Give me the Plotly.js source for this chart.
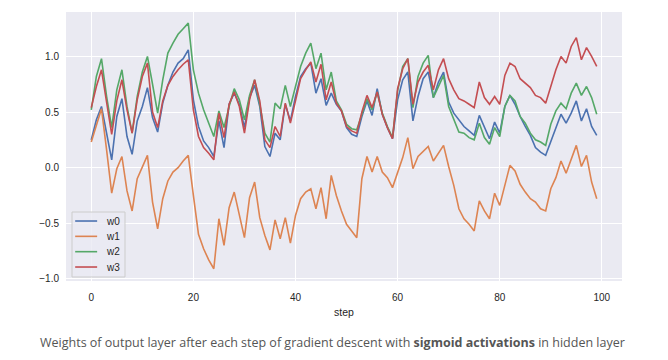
<!DOCTYPE html>
<html>
<head>
<meta charset="utf-8">
<script src="https://cdn.plot.ly/plotly-3.0.1.min.js"></script>
<style>html,body{margin:0;padding:0;background:#fff;}#chart{width:668px;height:360px;}</style>
</head>
<body>
<div id="chart"></div>
<script>
const seriesNames = ["w0", "w1", "w2", "w3"];
const w0 = [0.25,0.43,0.55,0.31,0.07,0.46,0.62,0.28,0.12,0.42,0.55,0.72,0.45,0.32,0.58,0.74,0.86,0.94,0.98,1.06,
0.61,0.37,0.24,0.18,0.10,0.42,0.18,0.57,0.67,0.57,0.36,0.63,0.74,0.55,0.19,0.10,0.31,0.25,0.57,0.42,
0.64,0.82,0.89,0.94,0.67,0.80,0.56,0.67,0.57,0.51,0.36,0.30,0.28,0.46,0.60,0.47,0.71,0.48,0.36,0.26,
0.61,0.79,0.86,0.42,0.64,0.80,0.86,0.63,0.77,0.86,0.59,0.49,0.43,0.37,0.33,0.29,0.47,0.37,0.26,0.41,
0.31,0.55,0.65,0.57,0.46,0.37,0.29,0.18,0.14,0.11,0.24,0.36,0.48,0.40,0.49,0.60,0.42,0.53,0.37,0.29];
const w1 = [0.23,0.39,0.53,0.16,-0.23,-0.01,0.10,-0.21,-0.39,-0.10,0.01,0.11,-0.31,-0.55,-0.28,-0.12,-0.04,0.00,0.06,0.11,
-0.25,-0.60,-0.73,-0.83,-0.91,-0.46,-0.70,-0.36,-0.22,-0.42,-0.63,-0.27,-0.13,-0.45,-0.61,-0.74,-0.47,-0.64,-0.45,-0.68,
-0.43,-0.28,-0.22,-0.19,-0.37,-0.18,-0.46,-0.07,-0.25,-0.39,-0.51,-0.57,-0.63,-0.10,0.10,-0.04,0.10,-0.04,-0.09,-0.18,
-0.04,0.09,0.27,-0.01,0.10,0.15,0.19,0.06,0.13,0.20,0.01,-0.16,-0.37,-0.46,-0.51,-0.57,-0.30,-0.39,-0.46,-0.23,
-0.34,-0.15,0.02,-0.03,-0.15,-0.22,-0.28,-0.31,-0.37,-0.39,-0.19,-0.09,0.06,-0.05,0.07,0.20,0.01,0.11,-0.13,-0.28];
const w2 = [0.52,0.82,0.98,0.64,0.36,0.70,0.88,0.55,0.31,0.64,0.86,1.00,0.75,0.49,0.79,1.03,1.12,1.20,1.25,1.30,
0.88,0.67,0.52,0.40,0.28,0.51,0.36,0.55,0.71,0.61,0.43,0.65,0.79,0.57,0.31,0.23,0.58,0.53,0.74,0.55,
0.74,0.91,1.03,1.12,0.89,1.03,0.70,0.86,0.60,0.52,0.39,0.35,0.34,0.48,0.62,0.52,0.68,0.49,0.37,0.27,
0.69,0.91,0.98,0.54,0.82,0.94,1.01,0.63,0.73,0.83,0.55,0.43,0.32,0.31,0.27,0.25,0.40,0.27,0.21,0.36,
0.28,0.55,0.65,0.60,0.46,0.40,0.31,0.25,0.23,0.20,0.39,0.51,0.58,0.53,0.67,0.76,0.65,0.73,0.63,0.48];
const w3 = [0.54,0.73,0.88,0.58,0.30,0.60,0.79,0.52,0.31,0.61,0.82,0.94,0.50,0.36,0.60,0.74,0.82,0.88,0.93,0.97,
0.52,0.28,0.18,0.13,0.07,0.49,0.27,0.57,0.68,0.55,0.31,0.61,0.79,0.60,0.25,0.18,0.37,0.28,0.58,0.40,
0.60,0.80,0.88,0.95,0.77,0.93,0.61,0.77,0.58,0.51,0.37,0.33,0.31,0.50,0.65,0.54,0.68,0.48,0.36,0.26,
0.71,0.89,0.98,0.57,0.77,0.86,0.92,0.70,0.88,0.98,0.80,0.70,0.62,0.60,0.57,0.54,0.77,0.63,0.57,0.64,
0.57,0.83,0.94,0.91,0.80,0.76,0.72,0.65,0.63,0.58,0.74,0.88,1.00,0.94,1.09,1.17,0.97,1.08,1.00,0.91];
const steps = w0.map((_, i) => i);
const xTicks = [0, 20, 40, 60, 80, 100];
const yTicks = [-1.0, -0.5, 0.0, 0.5, 1.0];
const colors = ["#4C72B0", "#DD8452", "#55A868", "#C44E52"];
const caption = "Weights of output layer after each step of gradient descent with <b>sigmoid activations</b> in hidden layer";

const allSeries = [w0, w1, w2, w3];
const traces = allSeries.map((ys, k) => ({
  type: "scatter", mode: "lines", name: seriesNames[k],
  x: steps, y: ys,
  line: {color: colors[k], width: 1.6}
}));

// Compact matplotlib-style legend (box, sample lines, labels) in plot-area fractions
const legBox = {x0: 0.0108, x1: 0.1061, y0: 0.0149, y1: 0.2565};
const legTop = 0.2230, legStep = 0.0570;
const shapes = [{
  type: "rect", xref: "x domain", yref: "y domain", layer: "above",
  x0: legBox.x0, x1: legBox.x1, y0: legBox.y0, y1: legBox.y1,
  fillcolor: "rgba(234,234,242,0.8)", line: {color: "#cccccc", width: 1}
}];
const annotations = [];
seriesNames.forEach((name, k) => {
  const yy = legTop - k * legStep;
  shapes.push({type: "line", xref: "x domain", yref: "y domain", layer: "above",
    x0: 0.0165, x1: 0.0560, y0: yy, y1: yy, line: {color: colors[k], width: 1.6}});
  annotations.push({text: name, xref: "x domain", yref: "y domain", x: 0.0690, y: yy,
    xanchor: "left", yanchor: "middle", showarrow: false,
    font: {size: 10, color: "#262626"}});
});
annotations.push({
  text: caption, xref: "paper", yref: "paper", x: 0.48, y: -0.19,
  xanchor: "center", yanchor: "top", showarrow: false,
  font: {family: "Open Sans, Noto Sans, sans-serif", size: 12.5, color: "#555555"}
});

const layout = {
  width: 668, height: 360,
  margin: {l: 66, r: 46, t: 12, b: 79},
  paper_bgcolor: "#ffffff",
  plot_bgcolor: "#EAEAF2",
  font: {family: "Liberation Sans, Arial, sans-serif", size: 10, color: "#262626"},
  xaxis: {
    range: [-4.95, 103.95], tickvals: xTicks, ticktext: xTicks.map(String),
    showgrid: true, gridcolor: "#ffffff", gridwidth: 1, zeroline: false, showline: false,
    ticks: "", ticklabelstandoff: 9,
    title: {text: "step", font: {size: 10.5, color: "#262626"}, standoff: 6}
  },
  yaxis: {
    range: [-1.02, 1.40], tickvals: yTicks, ticktext: yTicks.map(v => (v < 0 ? "\u2212" : "") + Math.abs(v).toFixed(1)),
    showgrid: true, gridcolor: "#ffffff", gridwidth: 1, zeroline: false, showline: false,
    ticks: "", ticklabelstandoff: 6
  },
  showlegend: false,
  shapes: shapes,
  annotations: annotations
};

Plotly.newPlot("chart", traces, layout, {displayModeBar: false, staticPlot: true});
</script>
</body>
</html>
